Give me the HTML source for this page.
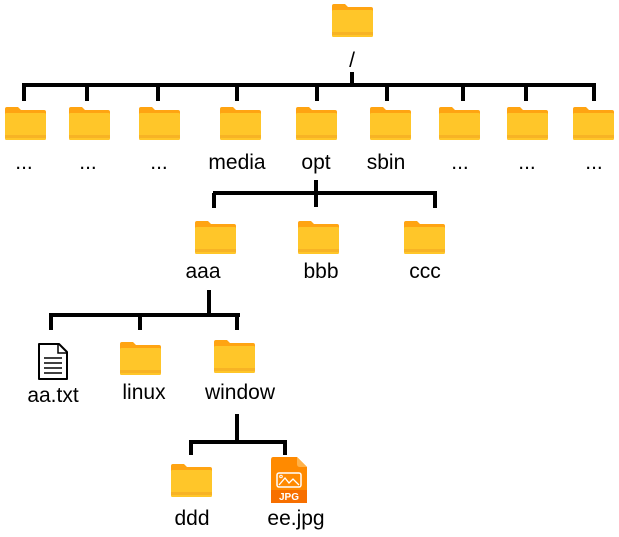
<!DOCTYPE html>
<html><head><meta charset="utf-8"><style>
html,body{margin:0;padding:0;background:#fff;width:619px;height:537px;overflow:hidden}
svg text{font-family:"Liberation Sans",sans-serif;font-size:21px;fill:#000;text-anchor:middle}
</style></head><body>
<svg width="619" height="537" viewBox="0 0 619 537" xmlns="http://www.w3.org/2000/svg">
<defs>
<g id="f">
<path d="M0,2 Q0,0 2,0 H13 L16,3 H39 Q41,3 41,5 V31 Q41,33 39,33 H2 Q0,33 0,31 Z" fill="#FFA412"/>
<rect x="0" y="6" width="41" height="27" rx="1.5" fill="#FFC629"/>
<rect x="0" y="28" width="41" height="3" fill="#F7B325"/>
</g>
</defs>
<g stroke="#000" stroke-width="4" fill="none" stroke-linecap="butt">
<path d="M352,72V85 M22,85H596 M24,85V101 M87,85V101 M158,85V101 M237,85V101 M317,85V101 M387,85V101 M463,85V101 M526,85V101 M594,85V101"/>
<path d="M316,180V207 M213,193H437 M214,193V208 M435,193V208"/>
<path d="M209,290V315 M49,315H240 M51,315V330 M140,315V330 M237,315V330"/>
<path d="M237,414V442 M189,442H287 M191,442V455 M285,442V455"/>
</g>
<use href="#f" x="332" y="4"/>
<use href="#f" x="5" y="107"/>
<use href="#f" x="69" y="107"/>
<use href="#f" x="139" y="107"/>
<use href="#f" x="220" y="107"/>
<use href="#f" x="296" y="107"/>
<use href="#f" x="370" y="107"/>
<use href="#f" x="439" y="107"/>
<use href="#f" x="507" y="107"/>
<use href="#f" x="573" y="107"/>
<use href="#f" x="195" y="221"/>
<use href="#f" x="298" y="221"/>
<use href="#f" x="404" y="221"/>
<use href="#f" x="120" y="342"/>
<use href="#f" x="214" y="340"/>
<use href="#f" x="171" y="464"/>
<path d="M39,344 H59 L67,352 V379 H39 Z" fill="#fff" stroke="#000" stroke-width="2" stroke-linejoin="round"/>
<path d="M58,344 V353 H67" fill="none" stroke="#000" stroke-width="1.5"/>
<path d="M44,358H62 M44,363H62 M44,368H62 M44,373H62" stroke="#000" stroke-width="1.5"/>
<path d="M273,457 H297 L307,467 V500 Q307,503 304,503 H274 Q271,503 271,500 V460 Q271,457 273,457 Z" fill="#FF8A00"/>
<path d="M297,457 V464 Q297,467 300,467 H307 Z" fill="#FFB24A"/>
<rect x="271" y="490" width="36" height="13" fill="#F76F00"/>
<rect x="277" y="473" width="24" height="14" rx="2" fill="none" stroke="#fff" stroke-width="1.5"/>
<path d="M279,485 L285,478 L289,483 L293,479 L299,485" fill="none" stroke="#fff" stroke-width="1.3"/>
<circle cx="281" cy="476.5" r="1.3" fill="none" stroke="#fff" stroke-width="1"/>
<text x="289" y="500" style="font-size:10px;font-weight:bold;fill:#fff">JPG</text>
<text x="352" y="67">/</text>
<text x="24" y="169">...</text>
<text x="88" y="169">...</text>
<text x="159" y="169">...</text>
<text x="237" y="169">media</text>
<text x="316" y="169">opt</text>
<text x="386" y="169">sbin</text>
<text x="460" y="169">...</text>
<text x="527" y="169">...</text>
<text x="594" y="169">...</text>
<text x="203" y="278">aaa</text>
<text x="321" y="278">bbb</text>
<text x="425" y="278">ccc</text>
<text x="53" y="402">aa.txt</text>
<text x="144" y="399">linux</text>
<text x="240" y="399">window</text>
<text x="192" y="525">ddd</text>
<text x="296" y="525">ee.jpg</text>
</svg>
</body></html>
